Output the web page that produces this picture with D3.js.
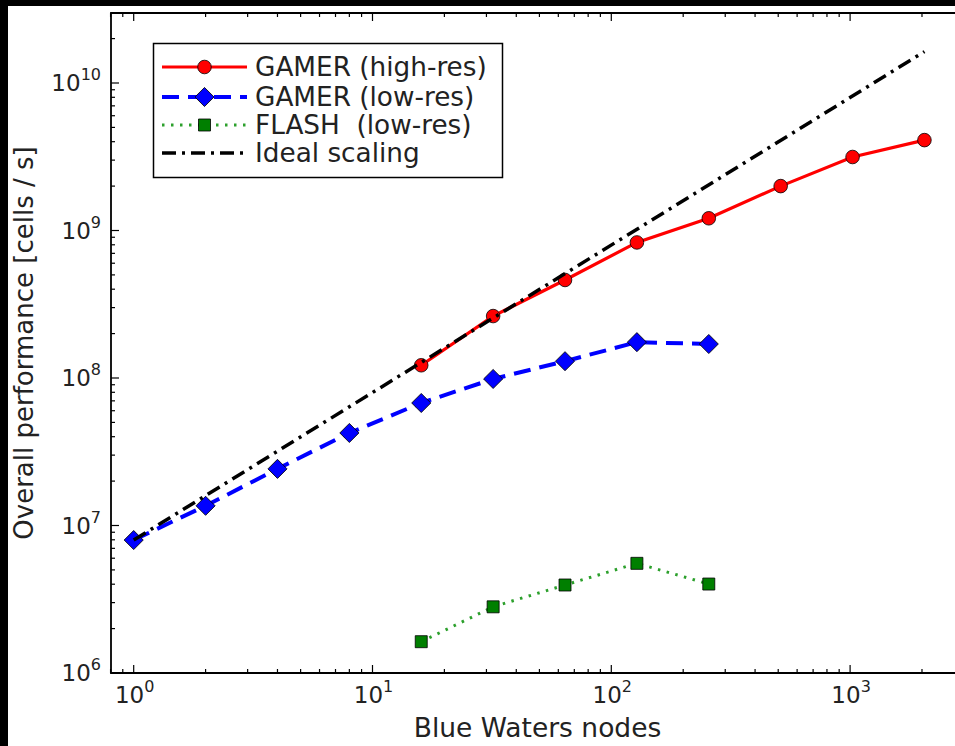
<!DOCTYPE html>
<html><head><meta charset="utf-8">
<script src="https://cdn.jsdelivr.net/npm/d3@7"></script>
<style>html,body{margin:0;padding:0;background:#000;}svg{display:block;}text{white-space:pre;}</style>
</head><body><svg id="c" width="955" height="746"></svg>
<script>
// ---- data ----
const hiResNodes = [16, 32, 64, 128, 256, 512, 1024, 2048];
const hiResPerf  = [1.22e8, 2.63e8, 4.62e8, 8.3e8, 1.21e9, 2.0e9, 3.15e9, 4.1e9];
const loResNodes = [1, 2, 4, 8, 16, 32, 64, 128, 256];
const loResPerf  = [7.97e6, 1.36e7, 2.42e7, 4.24e7, 6.77e7, 9.85e7, 1.30e8, 1.75e8, 1.70e8];
const flashNodes = [16, 32, 64, 128, 256];
const flashPerf  = [1.63e6, 2.81e6, 3.95e6, 5.54e6, 4.01e6];
const idealNodes = [1, 2048];
const idealPerf  = [7.97e6, 1.632e10];
const legendLabels = ["GAMER (high-res)", "GAMER (low-res)", "FLASH  (low-res)", "Ideal scaling"];
const xTickExps = [0, 1, 2, 3];
const yTickExps = [6, 7, 8, 9, 10];
const xLabel = "Blue Waters nodes";
const yLabel = "Overall performance [cells / s]";

const svg = d3.select("#c");
const FONT = "DejaVu Sans";
svg.append("rect").attr("x", 0).attr("y", 0).attr("width", 955).attr("height", 746).attr("fill", "#000");
svg.append("rect").attr("x", 8).attr("y", 6).attr("width", 947).attr("height", 740).attr("fill", "#fff");

const L = 111, T = 13, B = 673;
const x = d3.scaleLog().domain([0.8, 3000]);
const dec = 238.8;
x.range([133.7 + Math.log10(0.8) * dec, 133.7 + Math.log10(3000) * dec]);
const R = x.range()[1];
const y = d3.scaleLog().domain([1e6, 3e10]).range([B, B - Math.log10(3e4) * 147.5]);

const clip = svg.append("clipPath").attr("id", "clip");
clip.append("rect").attr("x", L).attr("y", T).attr("width", R - L).attr("height", B - T);

// ticks
const tickG = svg.append("g").attr("stroke", "#000").attr("stroke-width", 1.2);
function logTicks(domain) {
  const out = [];
  const lo = Math.floor(Math.log10(domain[0])), hi = Math.ceil(Math.log10(domain[1]));
  for (let e = lo; e <= hi; e++) for (let m = 1; m <= 9; m++) {
    const v = m * Math.pow(10, e);
    if (v >= domain[0] && v <= domain[1]) out.push({v, major: m === 1});
  }
  return out;
}
logTicks(x.domain()).forEach(t => {
  const len = t.major ? 8 : 4;
  tickG.append("line").attr("x1", x(t.v)).attr("x2", x(t.v)).attr("y1", B).attr("y2", B - len);
  tickG.append("line").attr("x1", x(t.v)).attr("x2", x(t.v)).attr("y1", T).attr("y2", T + len);
});
logTicks(y.domain()).forEach(t => {
  const len = t.major ? 8 : 4;
  tickG.append("line").attr("x1", L).attr("x2", L + len).attr("y1", y(t.v)).attr("y2", y(t.v));
});

// spines
svg.append("path").attr("d", `M${R},${T}H${L}V${B}H${R}`).attr("fill", "none")
  .attr("stroke", "#000").attr("stroke-width", 1.8);

// tick labels
xTickExps.forEach(e => {
  const t = svg.append("text").attr("x", x(Math.pow(10, e)) + 1).attr("y", 703)
    .attr("text-anchor", "middle").attr("font-family", FONT).attr("font-size", 23).attr("fill", "#222");
  t.append("tspan").text("10");
  t.append("tspan").attr("dy", -11).attr("font-size", 16).text(String(e));
});
yTickExps.forEach(e => {
  const t = svg.append("text").attr("x", 101).attr("y", y(Math.pow(10, e)) + 8)
    .attr("text-anchor", "end").attr("font-family", FONT).attr("font-size", 23).attr("fill", "#222");
  t.append("tspan").text("10");
  t.append("tspan").attr("dy", -11).attr("font-size", 16).text(String(e));
});

// axis labels
svg.append("text").attr("x", (L + R) / 2).attr("y", 737).attr("text-anchor", "middle")
  .attr("font-family", FONT).attr("font-size", 26.5).attr("fill", "#222").text(xLabel);
svg.append("text").attr("transform", `translate(33,${(T + B) / 2}) rotate(-90)`).attr("text-anchor", "middle")
  .attr("font-family", FONT).attr("font-size", 26).attr("fill", "#222").text(yLabel);

// series
const gData = svg.append("g").attr("clip-path", "url(#clip)");
const line = d3.line().x(d => x(d[0])).y(d => y(d[1]));
const zip = (a, b) => a.map((v, i) => [v, b[i]]);

const styles = [
  {stroke: "#ff0000", width: 3.2, dash: null, marker: "circle", fill: "#ff0000"},
  {stroke: "#0000ff", width: 4, dash: "17,9", marker: "diamond", fill: "#0000ff"},
  {stroke: "#2ca02c", width: 3, dash: "2.5,6.5", marker: "square", fill: "#007f00"},
  {stroke: "#000000", width: 3.5, dash: "14,6,3,6", marker: null, fill: null}
];
const sym = {
  circle: d3.symbol().type(d3.symbolCircle).size(Math.PI * 6.8 * 6.8),
  diamond: d3.symbol().type(d3.symbolSquare).size(13.5 * 13.5),
  square: d3.symbol().type(d3.symbolSquare).size(12 * 12)
};
function drawMarker(g, type, cx, cy, fill) {
  g.append("path").attr("d", sym[type]())
    .attr("transform", `translate(${cx},${cy})` + (type === "diamond" ? " rotate(45)" : ""))
    .attr("fill", fill).attr("stroke", "#000").attr("stroke-width", 0.8);
}
const series = [zip(hiResNodes, hiResPerf), zip(loResNodes, loResPerf), zip(flashNodes, flashPerf), zip(idealNodes, idealPerf)];
series.forEach((s, i) => {
  const st = styles[i];
  gData.append("path").attr("d", line(s)).attr("fill", "none").attr("stroke", st.stroke)
    .attr("stroke-width", st.width).attr("stroke-dasharray", st.dash);
  if (st.marker) s.forEach(d => drawMarker(gData, st.marker, x(d[0]), y(d[1]), st.fill));
});

// legend
const lg = svg.append("g");
lg.append("rect").attr("x", 153.5).attr("y", 43.5).attr("width", 349).attr("height", 134)
  .attr("fill", "#fff").attr("stroke", "#000").attr("stroke-width", 1.5);
const rowY = [67, 97, 125, 153];
legendLabels.forEach((lab, i) => {
  const st = styles[i];
  const yy = rowY[i];
  lg.append("line").attr("x1", 162).attr("x2", 247).attr("y1", yy).attr("y2", yy)
    .attr("stroke", st.stroke).attr("stroke-width", st.width).attr("stroke-dasharray", st.dash);
  if (st.marker) drawMarker(lg, st.marker, 204.5, yy, st.fill);
  lg.append("text").attr("x", 255).attr("y", yy + 9).attr("font-family", FONT).attr("font-size", 26.3)
    .attr("fill", "#222").text(lab);
});
</script></body></html>
